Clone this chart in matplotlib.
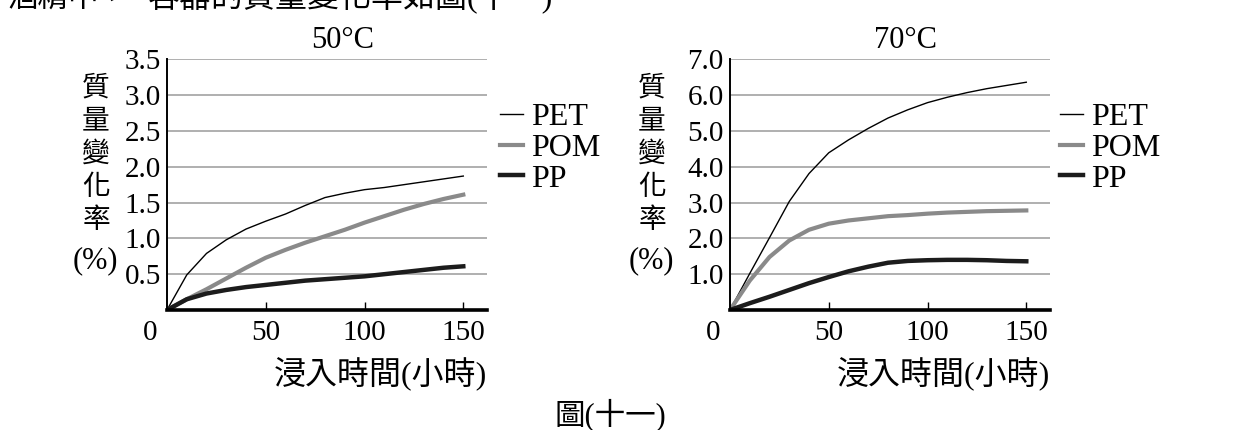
import matplotlib
matplotlib.use("Agg")
import matplotlib.pyplot as plt

plt.rcParams["font.family"] = ["Liberation Serif", "Noto Sans CJK TC", "DejaVu Sans"]

# 浸入時間 (小時)
hours = [0, 10, 20, 30, 40, 50, 60, 70, 80, 90, 100, 110, 120, 130, 140, 150]

# 50°C 質量變化率 (%)
pet_50 = [0, 0.49, 0.79, 0.98, 1.13, 1.24, 1.34, 1.46, 1.57, 1.63, 1.68, 1.71, 1.75, 1.79, 1.83, 1.87]
pom_50 = [0, 0.15, 0.29, 0.44, 0.59, 0.73, 0.84, 0.94, 1.03, 1.12, 1.22, 1.31, 1.40, 1.48, 1.55, 1.61]
pp_50 = [0, 0.15, 0.23, 0.28, 0.32, 0.35, 0.38, 0.41, 0.43, 0.45, 0.47, 0.50, 0.53, 0.56, 0.59, 0.61]

# 70°C 質量變化率 (%)
pet_70 = [0, 1.02, 2.02, 3.03, 3.81, 4.39, 4.75, 5.07, 5.36, 5.59, 5.79, 5.94, 6.07, 6.18, 6.27, 6.36]
pom_70 = [0, 0.82, 1.48, 1.94, 2.24, 2.41, 2.50, 2.56, 2.62, 2.65, 2.69, 2.72, 2.74, 2.76, 2.77, 2.78]
pp_70 = [0, 0.19, 0.37, 0.56, 0.75, 0.92, 1.08, 1.21, 1.32, 1.37, 1.39, 1.40, 1.40, 1.39, 1.37, 1.36]

yticks_50 = [0.5, 1.0, 1.5, 2.0, 2.5, 3.0, 3.5]
yticks_70 = [1.0, 2.0, 3.0, 4.0, 5.0, 6.0, 7.0]
xticks = [50, 100, 150]

W, H = 1250, 430
fig = plt.figure(figsize=(W / 100, H / 100), dpi=100)

CJK = ["Noto Sans CJK TC"]
MIX = ["Liberation Serif", "Noto Sans CJK TC"]


def px(x, y):
    return x / W, 1 - y / H


def draw_panel(left, title, pet, pom, pp, yticks, ymax, legend_x):
    ax = fig.add_axes([left / W, 1 - 310 / H, 320 / W, 250.7 / H])
    l1, = ax.plot(hours, pet, color="black", lw=1.0, label="PET")
    l2, = ax.plot(hours, pom, color="#8a8a8a", lw=3.0, label="POM")
    l3, = ax.plot(hours, pp, color="#1c1c1c", lw=3.2, label="PP")
    ax.set_xlim(0, 162)
    ax.set_ylim(0, ymax)
    ax.set_xticks(xticks)
    ax.set_yticks(yticks)
    ax.set_yticklabels([f"{v:.1f}" for v in yticks])
    ax.tick_params(axis="x", direction="in", length=6, width=1.0,
                   labelsize=21, pad=7)
    ax.tick_params(axis="y", length=0, labelsize=21, pad=4.5)
    ax.grid(axis="y", color="#9a9a9a", lw=1.1)
    ax.set_axisbelow(True)
    for s in ["top", "right"]:
        ax.spines[s].set_visible(False)
    ax.spines["left"].set_linewidth(1.4)
    ax.spines["bottom"].set_linewidth(2.6)
    ax.annotate("0", xy=(0, 0), xycoords="data", xytext=(-12.5, -7),
                textcoords="offset points", ha="center", va="top",
                fontsize=21, annotation_clip=False)
    ax.set_title(title, fontsize=22, pad=8, x=0.55)
    ax.text(1.0, -0.255, "浸入時間(小時)", transform=ax.transAxes,
            ha="right", va="center", fontsize=23, family=MIX)
    fig.legend(handles=[l1, l2, l3], loc="upper left",
               bbox_to_anchor=px(legend_x, 103), bbox_transform=fig.transFigure,
               frameon=False, fontsize=23, handlelength=0.72,
               handletextpad=0.25, labelspacing=0.04, borderpad=0,
               borderaxespad=0)
    return ax


draw_panel(167, "50°C", pet_50, pom_50, pp_50, yticks_50, 3.5, 500)
draw_panel(730, "70°C", pet_70, pom_70, pp_70, yticks_70, 7.0, 1060)

# vertical y-axis labels
for xc in (96, 652):
    for i, ch in enumerate("質量變化率"):
        fig.text(*px(xc, 87.5 + 33.1 * i), ch, ha="center", va="center",
                 fontsize=20, family=CJK)
    fig.text(*px(xc - 1, 261), "(%)", ha="center", va="center", fontsize=22)

# cropped sentence at top and caption
fig.text(8 / W, 1 - 7 / H, "酒精中，", ha="left", va="baseline",
         fontsize=22, family=CJK)
fig.text(148 / W, 1 - 7 / H, "容器的質量變化率如圖(十一)。",
         ha="left", va="baseline", fontsize=23, family=MIX)
fig.text(*px(610, 415), "圖(十一)", ha="center", va="center",
         fontsize=22, family=MIX)

fig.savefig("out.png", dpi=100)
